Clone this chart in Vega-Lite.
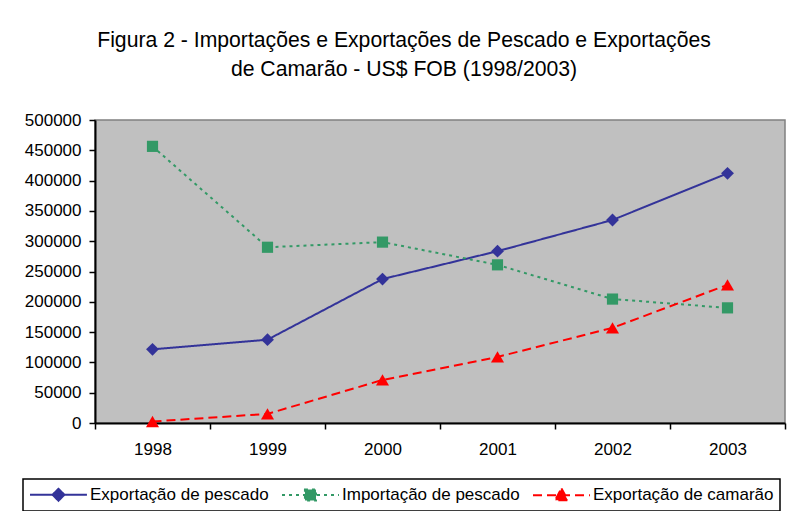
{
  "$schema": "https://vega.github.io/schema/vega-lite/v6.json",
  "width": 690,
  "height": 303,
  "autosize": {"type": "none"},
  "padding": {"left": 95, "top": 120, "right": 3, "bottom": 88},
  "background": "white",
  "title": {
    "text": ["Figura 2 - Importações e Exportações de Pescado e Exportações", "de Camarão - US$ FOB (1998/2003)"],
    "font": "Liberation Sans",
    "fontSize": 21.2,
    "fontWeight": "normal",
    "color": "black",
    "anchor": "middle",
    "dx": -36,
    "baseline": "bottom",
    "lineHeight": 29,
    "offset": 10
  },
  "config": {
    "view": {"fill": "#C0C0C0", "stroke": "#808080", "strokeWidth": 1.5},
    "font": "Liberation Sans"
  },
  "data": {
    "values": [
      {"ano": "1998", "serie": "Exportação de pescado", "valor": 121500},
      {"ano": "1999", "serie": "Exportação de pescado", "valor": 137500},
      {"ano": "2000", "serie": "Exportação de pescado", "valor": 237500},
      {"ano": "2001", "serie": "Exportação de pescado", "valor": 283500},
      {"ano": "2002", "serie": "Exportação de pescado", "valor": 335000},
      {"ano": "2003", "serie": "Exportação de pescado", "valor": 412000},
      {"ano": "1998", "serie": "Importação de pescado", "valor": 456500},
      {"ano": "1999", "serie": "Importação de pescado", "valor": 290000},
      {"ano": "2000", "serie": "Importação de pescado", "valor": 298500},
      {"ano": "2001", "serie": "Importação de pescado", "valor": 261000},
      {"ano": "2002", "serie": "Importação de pescado", "valor": 204500},
      {"ano": "2003", "serie": "Importação de pescado", "valor": 190000},
      {"ano": "1998", "serie": "Exportação de camarão", "valor": 2500},
      {"ano": "1999", "serie": "Exportação de camarão", "valor": 15000},
      {"ano": "2000", "serie": "Exportação de camarão", "valor": 71000},
      {"ano": "2001", "serie": "Exportação de camarão", "valor": 109000},
      {"ano": "2002", "serie": "Exportação de camarão", "valor": 157000},
      {"ano": "2003", "serie": "Exportação de camarão", "valor": 228000}
    ]
  },
  "encoding": {
    "x": {
      "field": "ano",
      "type": "ordinal",
      "bandPosition": 0.5,
      "scale": {"type": "band", "paddingInner": 0, "paddingOuter": 0},
      "axis": {
        "title": null,
        "labelAngle": 0,
        "tickBand": "extent",
        "domainColor": "black",
        "domainWidth": 2,
        "tickColor": "black",
        "tickWidth": 1.5,
        "tickSize": 6,
        "labelFontSize": 17,
        "labelColor": "black",
        "labelPadding": 12,
        "grid": false
      }
    },
    "y": {
      "field": "valor",
      "type": "quantitative",
      "scale": {"domain": [0, 500000], "nice": false},
      "axis": {
        "title": null,
        "values": [0, 50000, 100000, 150000, 200000, 250000, 300000, 350000, 400000, 450000, 500000],
        "format": "d",
        "domainColor": "black",
        "domainWidth": 2,
        "tickColor": "black",
        "tickWidth": 1.5,
        "tickSize": 6,
        "labelFontSize": 17,
        "labelColor": "black",
        "labelPadding": 8,
        "grid": false
      }
    }
  },
  "layer": [
    {
      "mark": {"type": "line", "strokeWidth": 2},
      "encoding": {
        "color": {
          "field": "serie",
          "type": "nominal",
          "scale": {
            "domain": ["Exportação de pescado", "Importação de pescado", "Exportação de camarão"],
            "range": ["#333399", "#339966", "#FF0000"]
          },
          "legend": {
            "title": null,
            "orient": "none",
            "legendX": -72,
            "legendY": 359,
            "direction": "horizontal",
            "padding": 6,
            "columnPadding": 9,
            "labelOffset": 42,
            "labelLimit": 400,
            "labelFont": "Liberation Sans",
            "labelFontSize": 17,
            "labelColor": "black",
            "strokeColor": "black",
            "symbolSize": 289,
            "symbolStrokeWidth": 2,
            "encode": {
              "legend": {"update": {"strokeWidth": {"value": 1.5}}},
              "symbols": {
                "update": {
                  "shape": {"signal": "datum.value === 'Exportação de pescado' ? 'M-1,0L5.7,0M2.35,-0.7L3.05,0L2.35,0.7L1.65,0Z' : datum.value === 'Importação de pescado' ? 'M-1,0L5.7,0M1.7,-0.65L3,-0.65L3,0.65L1.7,0.65Z' : 'M-1,0L5.7,0M2.35,-0.8L3.1,0.6L1.6,0.6Z'"},
                  "stroke": {"scale": "color", "field": "value"},
                  "fill": {"scale": "color", "field": "value"},
                  "opacity": {"value": 1},
                  "strokeDash": {"signal": "datum.value === 'Exportação de pescado' ? [1,0] : datum.value === 'Importação de pescado' ? [3,4] : [9,5]"}
                }
              }
            }
          }
        },
        "strokeDash": {
          "field": "serie",
          "type": "nominal",
          "scale": {
            "domain": ["Exportação de pescado", "Importação de pescado", "Exportação de camarão"],
            "range": [[1, 0], [3, 4], [9, 5]]
          },
          "legend": null
        }
      }
    },
    {
      "transform": [{"filter": "datum.serie === 'Exportação de pescado'"}],
      "mark": {"type": "point", "shape": "diamond", "size": 165, "filled": true, "opacity": 1, "color": "#333399"}
    },
    {
      "transform": [{"filter": "datum.serie === 'Importação de pescado'"}],
      "mark": {"type": "point", "shape": "square", "size": 125, "filled": true, "opacity": 1, "color": "#339966"}
    },
    {
      "transform": [{"filter": "datum.serie === 'Exportação de camarão'"}],
      "mark": {"type": "point", "shape": "triangle-up", "size": 170, "filled": true, "opacity": 1, "color": "#FF0000"}
    }
  ]
}
